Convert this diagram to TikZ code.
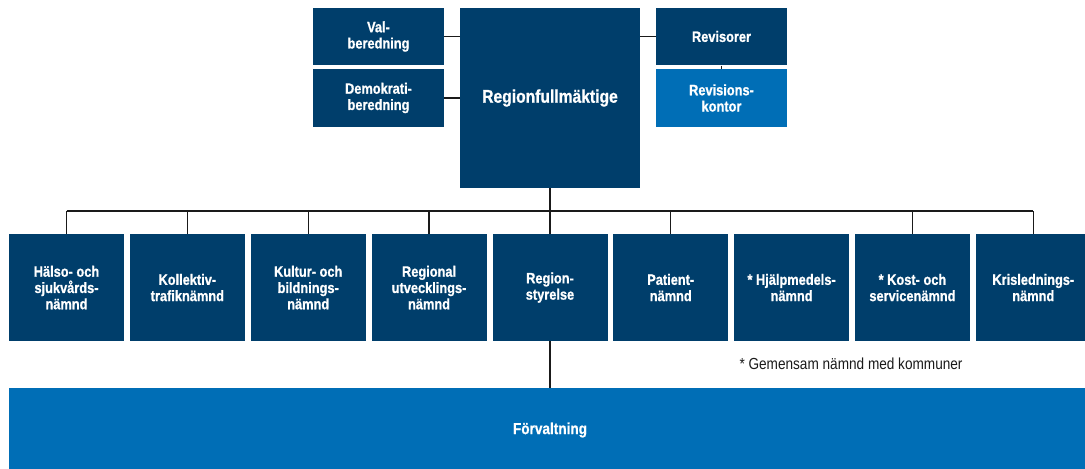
\documentclass[tikz,border=0pt]{standalone}
\usepackage{fontspec}
\setmainfont{Liberation Sans}
\newfontfamily\cond[FakeStretch=0.85, BoldFeatures={FakeBold=0.8}]{Liberation Sans}
\definecolor{navy}{HTML}{003E6B}
\definecolor{lightblue}{HTML}{006EB6}
\definecolor{linec}{HTML}{1A1A1A}
\tikzset{
  orgbox/.style={rectangle, fill=navy, text=white, inner sep=0pt, align=center,
    minimum width=86.25pt, minimum height=80.25pt,
    font=\cond\bfseries\fontsize{11.3}{12.2}\selectfont},
  topbox/.style={orgbox, minimum width=98.25pt, minimum height=43.1pt},
  conn/.style={draw=linec, line width=1.05pt}
}
\begin{document}
\begin{tikzpicture}[x=0.75pt,y=-0.75pt]
\useasboundingbox (0,0) rectangle (1085,468);
\clip (0,0) rectangle (1085,468);
% top level
\node[topbox] (val) at (378.5,36.5) {Val-\\beredning};
\node[topbox] (dem) at (378.5,98) {Demokrati-\\beredning};
\node[orgbox, minimum width=135pt, minimum height=135pt,
  font=\cond\bfseries\fontsize{13.8}{15}\selectfont] (rf) at (550,98) {Regionfullmäktige};
\node[topbox] (rev) at (721.5,36.5) {Revisorer};
\node[topbox, fill=lightblue] (revk) at (721.5,98) {Revisions-\\kontor};
% connectors top
\draw[conn] (val.east) -- (val.east -| rf.west);
\draw[conn] (dem.east) -- (dem.east -| rf.west);
\draw[conn] (rev.west) -- (rev.west -| rf.east);
\draw[conn] (rev.south) -- (revk.north);
% second level
\node[orgbox] (b1) at (66.5,287.6) {Hälso- och\\sjukvårds-\\nämnd};
\node[orgbox] (b2) at (187.35,287.6) {Kollektiv-\\trafiknämnd};
\node[orgbox] (b3) at (308.2,287.6) {Kultur- och\\bildnings-\\nämnd};
\node[orgbox] (b4) at (429.05,287.6) {Regional\\utvecklings-\\nämnd};
\node[orgbox] (rs) at (550,287.6) {Region-\\styrelse};
\node[orgbox] (b6) at (670.75,287.6) {Patient-\\nämnd};
\node[orgbox] (b7) at (791.6,287.6) {* Hjälpmedels-\\nämnd};
\node[orgbox] (b8) at (912.45,287.6) {* Kost- och\\servicenämnd};
\node[orgbox] (b9) at (1033.3,287.6) {Krislednings-\\nämnd};
% bus
\coordinate (bus) at (550,211);
\draw[conn] (rf.south) -- (rs.north);
\draw[conn] (b1.north |- bus) -- (b9.north |- bus);
\foreach \b in {b1,b2,b3,b4,b6,b8,b9}{
  \draw[conn] (\b.north) -- (\b.north |- bus);
}
% footnote
\node[font=\cond\fontsize{12}{14}\selectfont, text=linec, inner sep=0pt] (note) at (851,364) {* Gemensam nämnd med kommuner};
% bottom
\node[rectangle, fill=lightblue, text=white, inner sep=0pt, minimum width=811.5pt, minimum height=63pt,
  font=\cond\bfseries\fontsize{12}{14}\selectfont] (forv) at (550,430) {Förvaltning};
\draw[conn] (rs.south) -- (forv.north);
\end{tikzpicture}
\end{document}
